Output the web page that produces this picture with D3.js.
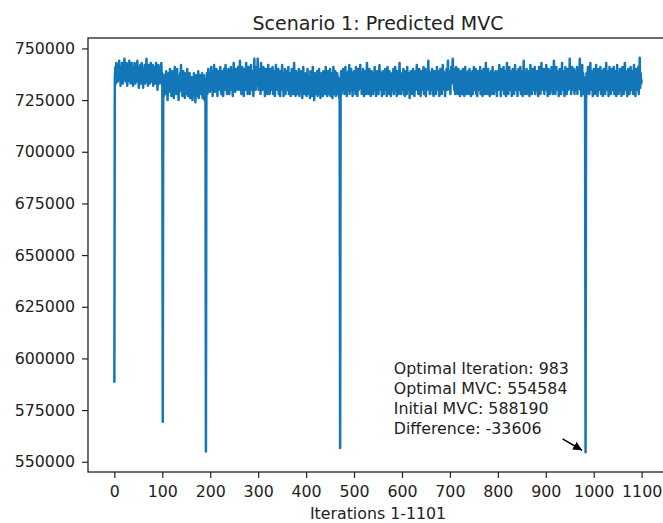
<!DOCTYPE html>
<html lang="en">
<head>
    <meta charset="UTF-8">
    <title>Scenario 1: Predicted MVC</title>
    <style type="text/css">
        html, body { padding:0; margin:0; background:#fff; }
        svg { display:block; font-family:"DejaVu Sans", sans-serif; }
    </style>
</head>
<body>
<script src="https://d3js.org/d3.v7.min.js"></script>
<script type="text/javascript">
    // predicted MVC per iteration, in thousands (iteration = index, 0..1100)
    var mvcK = [
        588.19, 736, 741, 733, 743, 737, 740, 734, 742, 738, 744, 735, 740, 732, 741, 736, 743, 738, 733, 742,
        739, 745, 735, 741, 734, 743, 738, 732, 742, 736, 740, 744, 734, 741, 733, 738, 743, 735, 740, 732,
        741, 734, 743, 737, 733, 742, 736, 740, 744, 734, 738, 731, 741, 736, 742, 733, 739, 743, 734, 738,
        731, 740, 736, 742, 733, 741, 737, 745, 734, 740, 732, 742, 736, 741, 733, 738, 743, 734, 740, 736,
        742, 732, 740, 734, 741, 737, 733, 743, 735, 740, 730, 738, 742, 734, 741, 733, 739, 736, 743, 734,
        738, 569.4, 734, 727, 737, 730, 735, 728, 739, 731, 736, 725, 734, 738, 729, 735, 740, 730, 736, 727,
        734, 739, 729, 736, 726, 735, 741, 730, 737, 728, 734, 740, 731, 736, 725, 735, 729, 738, 732, 742,
        730, 737, 727, 735, 739, 729, 734, 726, 738, 731, 736, 728, 740, 733, 727, 735, 730, 738, 726, 734,
        729, 736, 731, 725, 735, 728, 738, 730, 734, 724, 731, 737, 727, 735, 729, 739, 726, 734, 730, 737,
        728, 735, 730, 738, 726, 734, 729, 737, 725, 732, 735, 554.9, 730, 738, 728, 735, 740, 731, 737, 729,
        738, 733, 741, 730, 736, 727, 739, 732, 742, 734, 729, 738, 731, 740, 736, 727, 735, 739, 730, 737,
        733, 741, 736, 728, 739, 731, 738, 727, 735, 740, 730, 736, 742, 733, 739, 728, 736, 731, 740, 734,
        728, 737, 733, 741, 730, 739, 735, 727, 736, 743, 731, 738, 729, 740, 734, 730, 739, 733, 741, 736,
        730, 737, 744, 733, 739, 728, 736, 741, 731, 738, 727, 735, 740, 730, 736, 743, 733, 739, 728, 735,
        741, 731, 738, 728, 736, 742, 733, 739, 730, 737, 727, 735, 745, 731, 739, 730, 736, 741, 733, 745,
        737, 730, 740, 733, 738, 728, 743, 734, 739, 730, 736, 741, 731, 738, 727, 735, 740, 733, 738, 728,
        736, 742, 731, 739, 728, 735, 740, 730, 737, 733, 741, 728, 736, 731, 739, 727, 735, 742, 733, 738,
        730, 736, 740, 728, 738, 733, 727, 739, 731, 736, 742, 730, 735, 727, 738, 733, 740, 728, 736, 731,
        739, 730, 735, 741, 728, 738, 731, 736, 727, 733, 740, 730, 738, 728, 735, 743, 731, 736, 727, 739,
        733, 728, 738, 730, 736, 740, 727, 735, 731, 739, 729, 736, 726, 733, 741, 730, 738, 728, 735, 731,
        738, 727, 733, 740, 730, 736, 728, 735, 726, 739, 731, 736, 727, 735, 741, 730, 733, 725, 738, 731,
        728, 736, 730, 739, 727, 735, 731, 740, 728, 736, 726, 733, 738, 730, 735, 727, 739, 731, 736, 728,
        735, 741, 730, 738, 727, 733, 739, 728, 736, 731, 740, 727, 735, 730, 738, 726, 733, 741, 728, 736,
        731, 739, 727, 735, 730, 738, 728, 736, 733, 726, 735, 556.6, 731, 739, 728, 736, 730, 740, 733, 738,
        728, 735, 741, 731, 738, 727, 736, 730, 739, 733, 742, 728, 736, 731, 740, 730, 735, 727, 738, 733,
        739, 730, 736, 728, 741, 733, 738, 727, 735, 740, 730, 736, 731, 742, 733, 738, 728, 736, 730, 740,
        735, 727, 738, 731, 739, 728, 736, 743, 733, 738, 728, 735, 740, 730, 738, 727, 733, 739, 730, 736,
        728, 738, 733, 741, 730, 736, 727, 735, 739, 731, 738, 728, 736, 742, 733, 739, 730, 735, 727, 738,
        731, 739, 728, 736, 733, 740, 730, 738, 727, 735, 741, 731, 736, 728, 739, 733, 738, 727, 735, 730,
        738, 731, 740, 728, 736, 733, 741, 730, 735, 727, 739, 733, 738, 728, 736, 743, 731, 738, 728, 735,
        730, 738, 733, 740, 728, 735, 727, 739, 731, 736, 728, 741, 733, 738, 730, 736, 726, 735, 739, 730,
        736, 728, 735, 740, 731, 738, 727, 733, 739, 730, 736, 742, 731, 738, 728, 735, 740, 730, 736, 727,
        735, 739, 730, 738, 733, 741, 728, 736, 731, 740, 727, 735, 738, 730, 736, 744, 733, 739, 728, 735,
        730, 738, 733, 740, 728, 736, 727, 735, 739, 731, 738, 728, 736, 741, 733, 739, 730, 736, 727, 735,
        740, 731, 738, 728, 735, 742, 733, 739, 730, 736, 727, 738, 731, 740, 730, 736, 744, 733, 739, 730,
        736, 728, 738, 741, 733, 739, 745, 735, 740, 730, 738, 728, 736, 741, 731, 738, 728, 735, 740, 731,
        738, 727, 735, 739, 730, 736, 728, 740, 733, 738, 727, 735, 741, 731, 738, 728, 736, 733, 739, 728,
        735, 740, 730, 738, 727, 736, 731, 739, 728, 735, 741, 730, 738, 733, 740, 728, 736, 727, 735, 739,
        730, 738, 733, 741, 728, 736, 731, 739, 727, 735, 740, 730, 738, 728, 736, 743, 731, 738, 728, 735,
        740, 730, 736, 727, 738, 733, 739, 728, 735, 741, 731, 738, 728, 736, 730, 739, 733, 738, 727, 735,
        739, 730, 736, 742, 731, 738, 727, 735, 740, 730, 738, 733, 741, 728, 736, 731, 739, 727, 735, 743,
        731, 738, 728, 736, 741, 733, 739, 730, 736, 727, 735, 740, 731, 738, 728, 736, 742, 733, 739, 730,
        736, 727, 735, 740, 730, 738, 733, 741, 728, 736, 731, 739, 727, 735, 744, 730, 738, 728, 736, 733,
        740, 728, 735, 739, 730, 738, 727, 736, 742, 731, 738, 728, 735, 740, 730, 736, 733, 741, 728, 738,
        731, 739, 730, 736, 727, 735, 741, 731, 738, 728, 736, 743, 733, 739, 730, 735, 740, 728, 738, 731,
        736, 742, 730, 738, 727, 735, 740, 731, 739, 728, 736, 733, 741, 730, 738, 728, 735, 744, 731, 738,
        728, 736, 741, 733, 739, 730, 738, 727, 735, 740, 731, 738, 728, 736, 743, 733, 739, 730, 736, 727,
        735, 741, 731, 738, 728, 736, 740, 730, 739, 733, 745, 731, 738, 728, 736, 741, 730, 738, 733, 740,
        728, 736, 730, 739, 733, 741, 728, 735, 740, 731, 738, 745, 730, 736, 727, 735, 742, 731, 738, 728,
        736, 730, 726, 554.584, 722, 738, 728, 735, 741, 731, 738, 728, 736, 743, 733, 739, 730, 736, 727, 735,
        740, 730, 738, 728, 736, 742, 731, 738, 727, 735, 740, 730, 736, 733, 741, 728, 738, 731, 739, 727,
        735, 740, 730, 738, 728, 736, 743, 733, 739, 730, 736, 727, 735, 741, 731, 738, 728, 736, 740, 730,
        738, 733, 741, 728, 736, 731, 739, 727, 735, 742, 730, 738, 728, 736, 733, 740, 730, 738, 727, 735,
        741, 731, 738, 728, 736, 743, 733, 739, 730, 736, 727, 735, 740, 731, 738, 728, 736, 741, 730, 738,
        733, 739, 728, 736, 742, 731, 738, 727, 735, 740, 730, 738, 733, 741, 728, 736, 745.5, 731, 738, 733,
        735
    ];
    var xTicks = [0, 100, 200, 300, 400, 500, 600, 700, 800, 900, 1000, 1100];
    var yTicks = [550000, 575000, 600000, 625000, 650000, 675000, 700000, 725000, 750000];
    var noteLines = [
        'Optimal Iteration: 983',
        'Optimal MVC: 554584',
        'Initial MVC: 588190',
        'Difference: -33606'
    ];
    var optIter = 983, optMvc = 554584;
    var arrowFrom = [935, 561100];

    var data = mvcK.map(function(v, i) { return {x: i, y: v * 1000}; });

    var width = 663, height = 523,
        mLeft = 88, mRight = 668, mTop = 38, mBottom = 472,
        fontSize = '15.8px';

    var xPad = (data.length - 1) * 0.05;
    var xScale = d3.scaleLinear().domain([-xPad, data.length - 1 + xPad]).range([mLeft, mRight]);
    var yMin = d3.min(data, function(d) { return d.y; }),
        yMax = d3.max(data, function(d) { return d.y; }),
        yPad = (yMax - yMin) * 0.05;
    var yScale = d3.scaleLinear().domain([yMin - yPad, yMax + yPad]).range([mBottom, mTop]);

    var svg = d3.select('body').append('svg')
            .attr('width', width)
            .attr('height', height);

    var line = d3.line()
        .x(function(d) { return xScale(d.x); })
        .y(function(d) { return yScale(d.y); });

    svg.append('path')
        .datum(data)
        .attr('fill', 'none')
        .attr('stroke', '#1376b8')
        .attr('stroke-width', 2.5)
        .attr('stroke-linejoin', 'round')
        .attr('d', line);

    var xAxis = d3.axisBottom(xScale).tickValues(xTicks).tickSize(6).tickPadding(8).tickSizeOuter(0)
        .tickFormat(d3.format('d'));
    var yAxis = d3.axisLeft(yScale).tickValues(yTicks).tickSize(6).tickPadding(7).tickSizeOuter(0)
        .tickFormat(d3.format('d'));

    var gx = svg.append('g')
        .attr('transform', 'translate(0,' + mBottom + ')')
        .call(xAxis);
    var gy = svg.append('g')
        .attr('transform', 'translate(' + mLeft + ',0)')
        .call(yAxis);

    [gx, gy].forEach(function(g) {
        g.select('.domain').remove();
        g.selectAll('.tick line').attr('stroke', '#222').attr('stroke-width', 1.2);
        g.selectAll('.tick text')
            .attr('fill', '#222')
            .style('font-family', '"DejaVu Sans", sans-serif')
            .style('font-size', fontSize);
    });

    // frame
    svg.append('rect')
        .attr('x', mLeft).attr('y', mTop)
        .attr('width', mRight - mLeft).attr('height', mBottom - mTop)
        .attr('fill', 'none').attr('stroke', '#222').attr('stroke-width', 1.3);

    svg.append('text')
        .attr('x', (mLeft + mRight) / 2).attr('y', 30)
        .attr('text-anchor', 'middle')
        .attr('fill', '#222')
        .style('font-size', '19px')
        .text('Scenario 1: Predicted MVC');

    svg.append('text')
        .attr('x', (mLeft + mRight) / 2).attr('y', 519)
        .attr('text-anchor', 'middle')
        .attr('fill', '#222')
        .style('font-size', fontSize)
        .text('Iterations 1-1101');

    // annotation
    var noteX = xScale(583), noteBase = 433.5;
    svg.append('g').selectAll('text')
        .data(noteLines)
        .enter()
        .append('text')
        .attr('x', noteX)
        .attr('y', function(d, i) { return noteBase - (noteLines.length - 1 - i) * 19.8; })
        .attr('fill', '#222')
        .style('font-size', fontSize)
        .text(function(d) { return d; });

    svg.append('defs').append('marker')
        .attr('id', 'head')
        .attr('viewBox', '0 0 10 10')
        .attr('refX', 10).attr('refY', 5)
        .attr('markerWidth', 9).attr('markerHeight', 9)
        .attr('markerUnits', 'userSpaceOnUse')
        .attr('orient', 'auto')
        .append('path')
        .attr('d', 'M0,0 L10,5 L0,10 z')
        .attr('fill', '#000');

    var ax1 = xScale(arrowFrom[0]), ay1 = yScale(arrowFrom[1]),
        ax2 = xScale(optIter), ay2 = yScale(optMvc);
    var len = Math.hypot(ax2 - ax1, ay2 - ay1), shrink = 4;
    svg.append('line')
        .attr('x1', ax1).attr('y1', ay1)
        .attr('x2', ax2 - (ax2 - ax1) / len * shrink)
        .attr('y2', ay2 - (ay2 - ay1) / len * shrink)
        .attr('stroke', '#000')
        .attr('stroke-width', 1.5)
        .attr('marker-end', 'url(#head)');
</script>
</body>
</html>
